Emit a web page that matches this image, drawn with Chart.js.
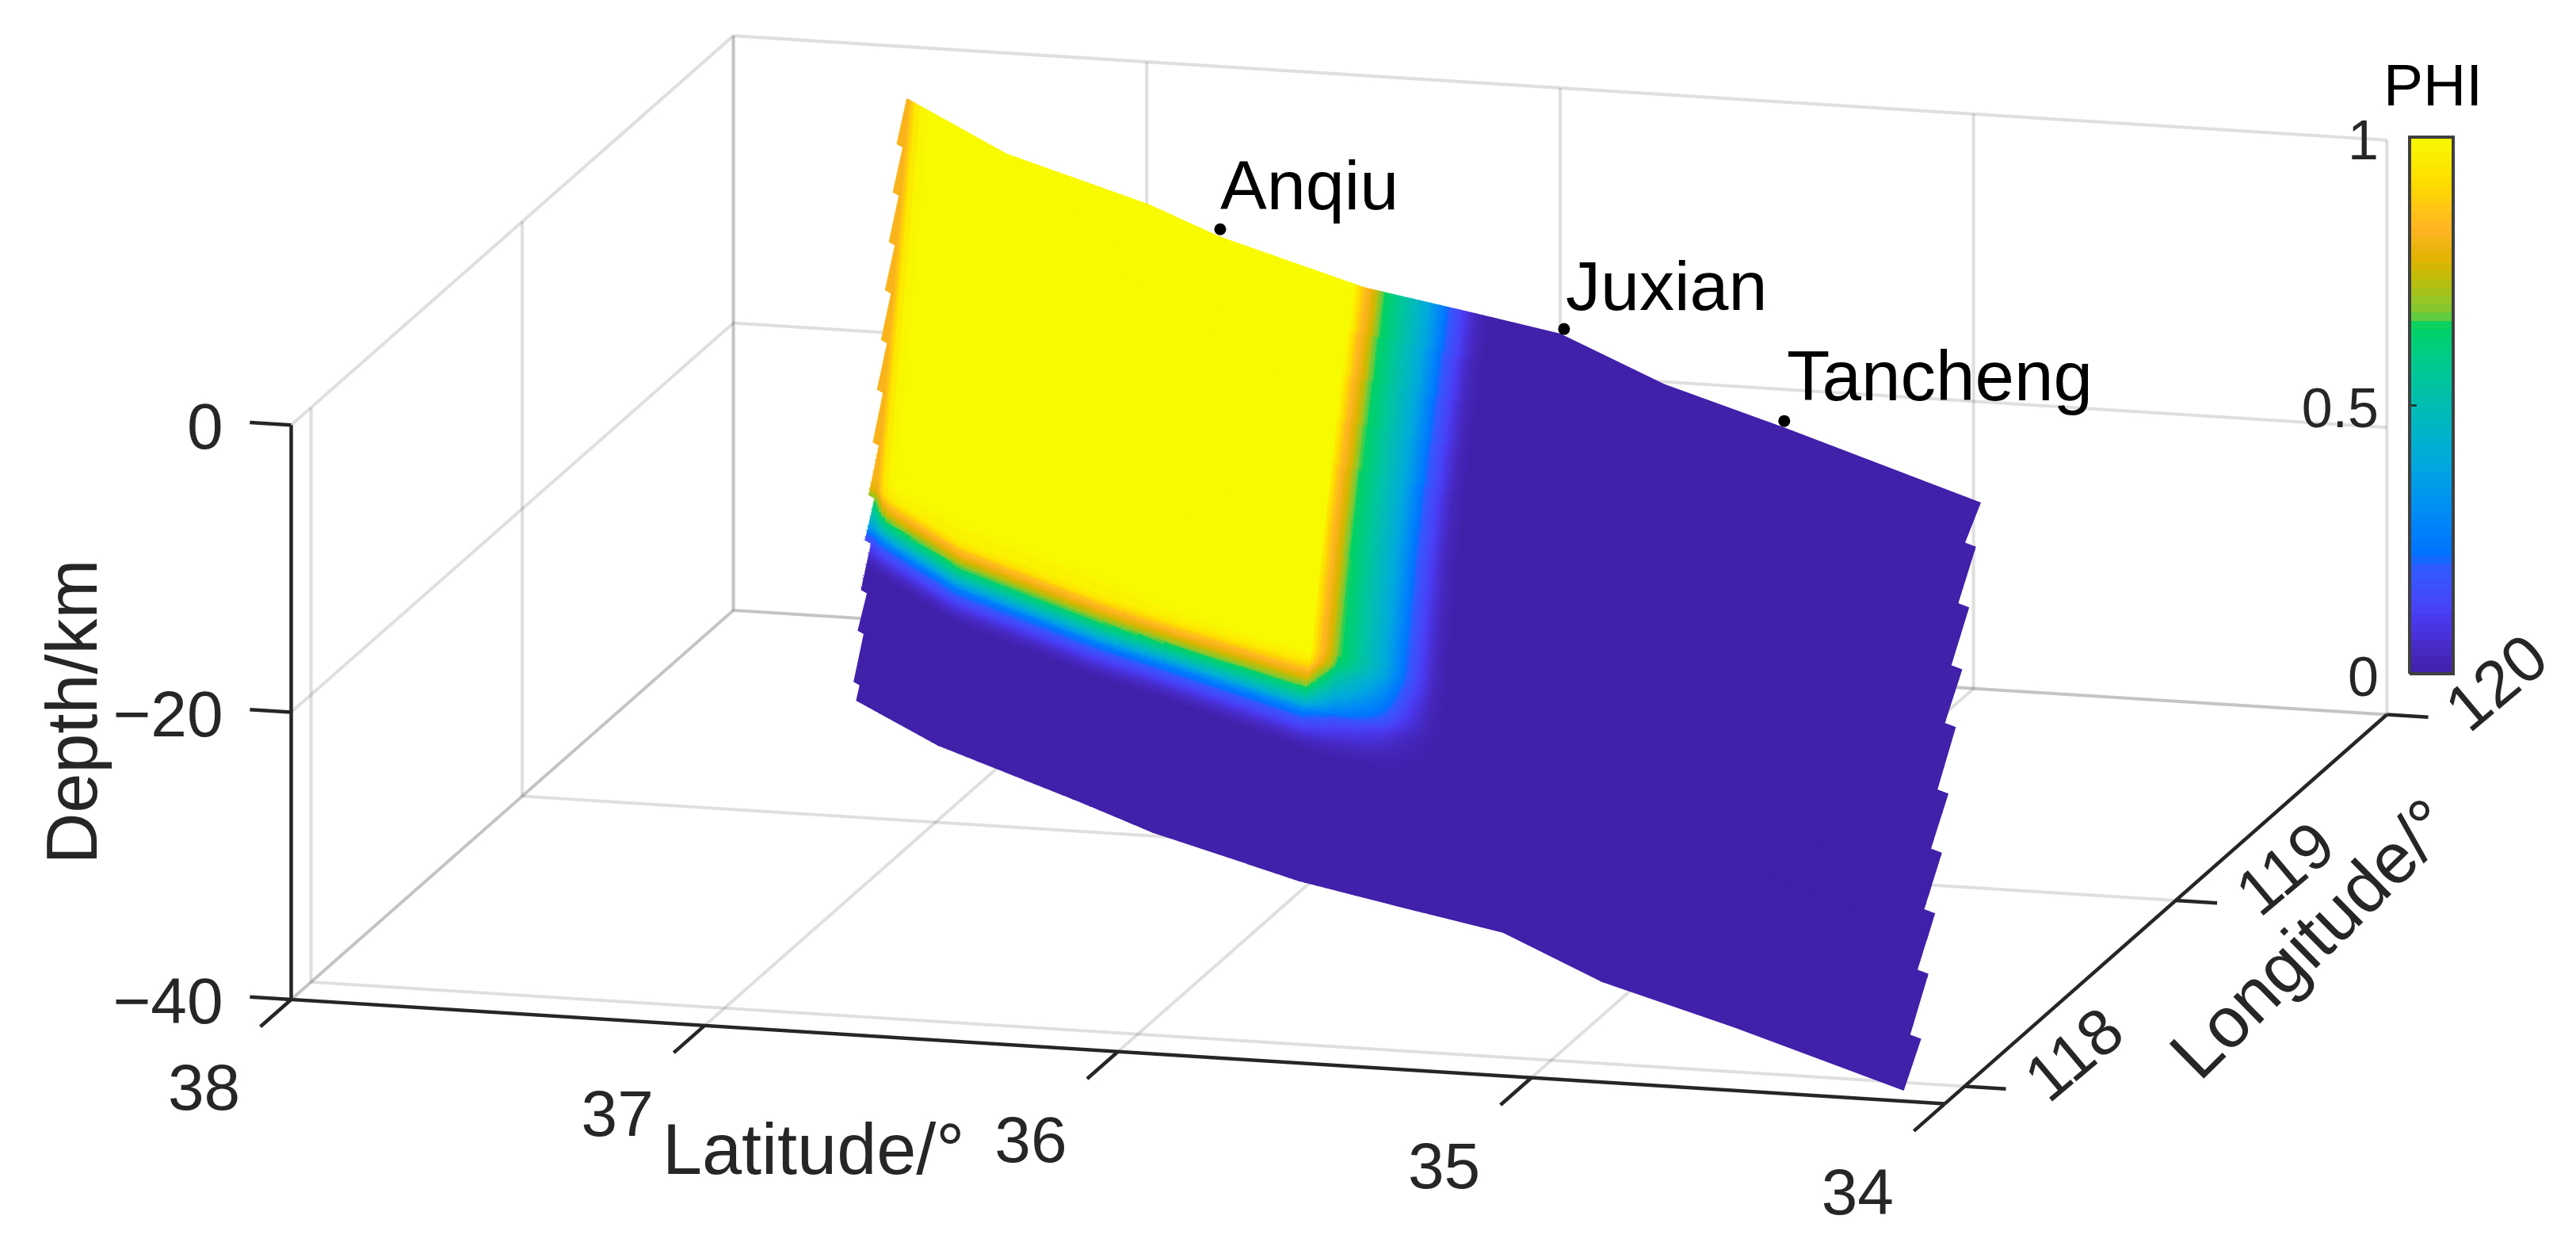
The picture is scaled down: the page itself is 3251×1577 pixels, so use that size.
<!DOCTYPE html>
<html>
<head>
<meta charset="utf-8">
<title>PHI on fault plane</title>
<script src="https://cdn.jsdelivr.net/npm/chart.js@4/dist/chart.umd.min.js"></script>
<style>
    html, body { margin: 0; padding: 0; background: #fff; }
    canvas { display: block; }
</style>
</head>
<body>
<canvas id="fault_chart" width="3251" height="1577"></canvas>
<script>
// axis ticks
var latTicks = [38, 37, 36, 35, 34];
var lonTicks = [118, 119, 120];
var depthTicks = [0, -20, -40];
var phiTicks = [0, 0.5, 1];

// fault trace at the surface and at 40 km
var topLat = [37.446, 37.081, 36.631, 36.385, 35.928, 35.657, 35.371, 35.005, 34.621, 34.023];
var topLon = [119.738, 119.493, 119.284, 119.143, 118.934, 118.853, 118.765, 118.544, 118.363, 118.067];
var baseLat = [37.483, 37.192, 36.722, 36.484, 36.029, 35.740, 35.437, 35.089, 34.669, 34.129];
var baseLon = [119.582, 119.388, 119.147, 119.019, 118.822, 118.726, 118.628, 118.413, 118.224, 117.963];

// PHI read along strike (by surface latitude) and down dip (by depth in km)
var stationLat = [37.446, 37.440, 37.430, 37.420, 37.400, 37.370, 37.081, 36.631, 36.385, 35.961, 35.945, 35.928, 35.911, 35.893, 35.879, 35.866, 35.843, 35.809, 35.775, 35.741, 35.707, 35.689, 35.673, 35.657, 35.650, 35.628, 35.605, 35.571, 35.371, 35.005, 34.621, 34.023];
var phiAlong = [0.80, 0.83, 0.88, 0.93, 0.98, 1, 1, 1, 1, 1, 0.93, 0.85, 0.80, 0.74, 0.67, 0.645, 0.60, 0.53, 0.46, 0.38, 0.27, 0.21, 0.17, 0.13, 0.12, 0.07, 0.03, 0, 0, 0, 0, 0];
var depthKm = [0, 25, 25.8, 26.1, 26.4, 26.7, 27, 27.3, 27.6, 28, 28.5, 29, 29.3, 29.6, 30, 30.4, 30.8, 31.2, 40];
var phiDepth = [1, 1, 0.97, 0.93, 0.86, 0.81, 0.76, 0.70, 0.64, 0.56, 0.43, 0.26, 0.21, 0.16, 0.11, 0.06, 0.03, 0, 0];

// the lower PHI edge is not quite level along strike, and widens toward the corner
var warpLat = [37.446, 37.081, 36.631, 36.385, 36.0, 35.9, 34.023];
var warpKm = [0, 0.4, 0.4, -0.1, -0.5, -0.9, -0.9];
var widenBy = [1, 1, 1, 1, 1.1, 1.2, 1.2];
// the side PHI edge bends a little with depth (degrees of latitude)
var bendDepth = [0, 5, 15, 25, 40];
var bendLat = [0, 0.009, 0.020, 0.014, 0.014];

// depths where the jagged edges of the mesh step back
var leftSteps = [0, 3.2, 6.4, 9.7, 12.9, 16.2, 19.5, 23, 26.5, 29.5, 32.8, 35.5, 38.9, 42];
var rightSteps = [0, 3, 7.1, 11.3, 15.2, 19.7, 23.7, 27.8, 31.9, 36.3, 40];

// towns on the trace
var townNames = ["Anqiu", "Juxian", "Tancheng"];
var townLat = [36.405, 35.373, 34.640];
var townLon = [119.183, 118.791, 118.399];

// colormap stops
var cmapPhi = [0, 0.036, 0.094, 0.129, 0.194, 0.223, 0.302, 0.396, 0.475, 0.561, 0.647, 0.658, 0.676, 0.734, 0.77, 0.827, 0.913, 1];
var cmapRgb = [[65, 32, 170], [70, 40, 190], [75, 55, 235], [70, 70, 250], [50, 90, 255], [0, 115, 255], [0, 140, 245], [0, 170, 220], [0, 185, 190], [0, 200, 150], [0, 210, 100], [80, 205, 70], [130, 200, 50], [190, 190, 10], [225, 180, 0], [255, 180, 35], [255, 220, 0], [248, 250, 0]];

var LON_MIN = 117.906;
var gridColor = 'rgba(38, 38, 38, 0.15)';
var axisColor = '#262626';

// fixed 3d view of the box, gives position in picture coordinates
function project(lat, lon, z) {
    var a = 38 - lat, b = lon - LON_MIN;
    return {
        x: 367.5 + a * 521.7 + b * 266.5,
        y: 1261 + a * 32.9 - b * 234.5 - (z + 40) * 18.12
    };
}

function lookup(xs, ys, v) {
    var asc = xs[1] > xs[0];
    for (var i = 0; i < xs.length - 1; i++) {
        var inside = asc ? (v >= xs[i] && v <= xs[i + 1]) : (v <= xs[i] && v >= xs[i + 1]);
        if (inside) {
            var u = (v - xs[i]) / (xs[i + 1] - xs[i]);
            return ys[i] + (ys[i + 1] - ys[i]) * u;
        }
    }
    return ys[ys.length - 1];
}

function phiColor(phi) {
    var rgb = [0, 1, 2].map(function (c) {
        return Math.round(lookup(cmapPhi, cmapRgb.map(function (s) { return s[c]; }), phi));
    });
    return 'rgb(' + rgb.join(',') + ')';
}

function phiAt(station, depth) {
    var s = station < 36.5 ? station - lookup(bendDepth, bendLat, depth) : station;
    var pivot = 25.5 + lookup(warpLat, warpKm, station);
    var d = depth < pivot ? depth : 25.5 + (depth - pivot) / lookup(warpLat, widenBy, station);
    return lookup(stationLat, phiAlong, s) * lookup(depthKm, phiDepth, d);
}

function surfacePoint(station, depth, shift) {
    var lat0 = lookup(topLat, topLat, station);
    var lon0 = lookup(topLat, topLon, station);
    var lat1 = lookup(topLat, baseLat, station);
    var lon1 = lookup(topLat, baseLon, station);
    var t = depth / 40;
    return project(lat0 + (lat1 - lat0) * t + shift[0], lon0 + (lon1 - lon0) * t + shift[1], -depth);
}

// how far the outer edge sticks out at a depth of a given step
function stepFraction(steps, mid, depth) {
    for (var k = 0; k < steps.length - 1; k++) {
        if (mid >= steps[k] && mid <= steps[k + 1]) {
            return (depth - steps[k]) / (steps[k + 1] - steps[k]);
        }
    }
    return 0;
}

function leftShift(mid, depth) {
    var f = stepFraction(leftSteps, mid, depth);
    return [0.022 * f, 0.0148 * f];
}

function rightShift(mid, depth) {
    var g = 1 - stepFraction(rightSteps, mid, depth);
    return [-0.035 * g, -0.0166 * g];
}

function lineSet(points, color, width, order, yAxis) {
    return {
        data: points,
        yAxisID: yAxis || 'y',
        showLine: true,
        fill: false,
        tension: 0,
        pointRadius: 0,
        borderColor: color,
        borderWidth: width,
        borderCapStyle: 'butt',
        order: order
    };
}

function polygonSet(points, color, order, yAxis) {
    var closed = points.concat([points[0]]);
    var set = lineSet(closed, color, 1.5, order, yAxis);
    set.fill = 'shape';
    set.backgroundColor = color;
    return set;
}

function sortedUnique(list, descending) {
    return list.filter(function (v, i, all) {
        return all.indexOf(v) === i;
    }).sort(function (p, q) { return descending ? q - p : p - q; });
}

// drawing mesh: the read stations plus finer cells where colours change
function meshColumns() {
    var cols = stationLat.slice();
    for (var s = 37.35; s > 35.97; s -= 0.03) { cols.push(+s.toFixed(3)); }
    for (var t = 35.97; t > 35.55; t -= 0.008) { cols.push(+t.toFixed(3)); }
    return sortedUnique(cols, true);
}

function meshRows() {
    var rows = depthKm.slice();
    for (var d = 3; d < 23; d += 3) { rows.push(d); }
    for (var e = 23; e < 33; e += 0.2) { rows.push(+e.toFixed(1)); }
    return sortedUnique(rows, false);
}

function surfaceSets() {
    var sets = [], cols = meshColumns(), rows = meshRows();
    var noShift = [0, 0];
    var edgeRows = sortedUnique(rows.concat(leftSteps, rightSteps).filter(function (d) { return d <= 40; }), false);

    cols.slice(0, -1).forEach(function (s0, c) {
        var s1 = cols[c + 1], midS = (s0 + s1) / 2;
        var first = c === 0, last = c === cols.length - 2;

        if (first || last) {
            edgeRows.slice(0, -1).forEach(function (d0, r) {
                var d1 = edgeRows[r + 1], mid = (d0 + d1) / 2;
                sets.push(polygonSet([
                    surfacePoint(s0, d0, first ? leftShift(mid, d0) : noShift),
                    surfacePoint(s1, d0, last ? rightShift(mid, d0) : noShift),
                    surfacePoint(s1, d1, last ? rightShift(mid, d1) : noShift),
                    surfacePoint(s0, d1, first ? leftShift(mid, d1) : noShift)
                ], phiColor(phiAt(midS, mid)), 20));
            });
            return;
        }

        // rows of one colour become one polygon
        var start = rows[0], color = null;
        rows.slice(0, -1).forEach(function (d0, r) {
            var c2 = phiColor(phiAt(midS, (d0 + rows[r + 1]) / 2));
            if (color !== null && c2 !== color) {
                sets.push(polygonSet([surfacePoint(s0, start, noShift), surfacePoint(s1, start, noShift),
                    surfacePoint(s1, d0, noShift), surfacePoint(s0, d0, noShift)], color, 20));
                start = d0;
            }
            color = c2;
        });
        sets.push(polygonSet([surfacePoint(s0, start, noShift), surfacePoint(s1, start, noShift),
            surfacePoint(s1, 40, noShift), surfacePoint(s0, 40, noShift)], color, 20));
    });
    return sets;
}

function buildDatasets() {
    var sets = [];
    var lonEnd = lonTicks[lonTicks.length - 1];

    // walls and floor grid
    depthTicks.forEach(function (z) {
        sets.push(lineSet([project(38, LON_MIN, z), project(38, lonEnd, z), project(34, lonEnd, z)], gridColor, 4, 40));
    });
    lonTicks.forEach(function (lon) {
        sets.push(lineSet([project(38, lon, 0), project(38, lon, -40), project(34, lon, -40)], gridColor, 4, 40));
    });
    latTicks.forEach(function (lat) {
        sets.push(lineSet([project(lat, LON_MIN, -40), project(lat, lonEnd, -40), project(lat, lonEnd, 0)], gridColor, 4, 40));
    });

    sets = sets.concat(surfaceSets());

    // black axes and ticks
    sets.push(lineSet([project(38, LON_MIN, 0), project(38, LON_MIN, -40), project(34, LON_MIN, -40)], axisColor, 4.5, 5));
    sets.push(lineSet([project(34, LON_MIN, -40), project(34, lonEnd, -40)], axisColor, 4.5, 5));
    depthTicks.forEach(function (z) {
        sets.push(lineSet([project(38, LON_MIN, z), project(38.1, LON_MIN, z)], axisColor, 4.5, 5));
    });
    latTicks.forEach(function (lat) {
        sets.push(lineSet([project(lat, LON_MIN, -40), project(lat, LON_MIN - 0.146, -40)], axisColor, 4.5, 5));
    });
    lonTicks.forEach(function (lon) {
        sets.push(lineSet([project(34, lon, -40), project(33.9, lon, -40)], axisColor, 4.5, 5));
    });

    // town markers
    sets.push({
        data: townNames.map(function (n, i) { return project(townLat[i], townLon[i], 0); }),
        pointRadius: 7.5,
        pointBackgroundColor: '#000',
        pointBorderWidth: 0,
        showLine: false,
        order: 1
    });

    // colorbar, in its own PHI scale
    var barLeft = 3041, barRight = 3096;
    for (var k = 0; k < 64; k++) {
        sets.push(polygonSet([
            { x: barLeft, y: k / 64 }, { x: barRight, y: k / 64 },
            { x: barRight, y: (k + 1) / 64 }, { x: barLeft, y: (k + 1) / 64 }
        ], phiColor((k + 0.5) / 64), 4, 'yBar'));
    }
    var frame = [{ x: barLeft, y: 0 }, { x: barRight, y: 0 }, { x: barRight, y: 1 }, { x: barLeft, y: 1 }, { x: barLeft, y: 0 }];
    sets.push(lineSet(frame, '#404040', 4, 3, 'yBar'));
    sets.push(lineSet([{ x: barLeft, y: 0.5 }, { x: barLeft + 9, y: 0.5 }], '#262626', 2.5, 3, 'yBar'));
    return sets;
}

function drawText(ctx, str, x, y, size, color, align, rotate) {
    ctx.save();
    ctx.translate(x, y);
    if (rotate) {
        ctx.rotate(rotate * Math.PI / 180);
    }
    ctx.font = size + 'px "Liberation Sans", Arial, sans-serif';
    ctx.fillStyle = color;
    ctx.textAlign = align;
    ctx.textBaseline = 'alphabetic';
    ctx.fillText(str, 0, 0);
    ctx.restore();
}

var labelsPlugin = {
    id: 'labels',
    afterDatasetsDraw: function (chart) {
        var ctx = chart.ctx;
        var yBar = chart.scales.yBar;
        var tickColor = '#262626';

        depthTicks.forEach(function (z) {
            var p = project(38, LON_MIN, z);
            var txt = z < 0 ? '\u2212' + (-z) : String(z);
            drawText(ctx, txt, p.x - 86, p.y + 30, 82, tickColor, 'right');
        });
        latTicks.forEach(function (lat) {
            var p = project(lat, LON_MIN, -40);
            drawText(ctx, String(lat), p.x - 110, p.y + 139, 82, tickColor, 'center');
        });
        lonTicks.forEach(function (lon) {
            var p = project(34, lon, -40);
            drawText(ctx, String(lon), p.x + 137 + 19, p.y - 41 + 22, 82, tickColor, 'center', -40);
        });
        phiTicks.forEach(function (v) {
            drawText(ctx, String(v), 3002, yBar.getPixelForValue(v) + 28, 70, tickColor, 'right');
        });

        drawText(ctx, 'Depth/km', 122, 898, 90, tickColor, 'center', -90);
        drawText(ctx, 'Latitude/\u00b0', 836, 1481, 90, tickColor, 'left');
        drawText(ctx, 'Longitude/\u00b0', 2776, 1366, 90, tickColor, 'left', -44.5);
        drawText(ctx, 'PHI', 3008, 133, 75, '#000', 'left');

        drawText(ctx, townNames[0], 1540, 264, 88, '#000', 'left');
        drawText(ctx, townNames[1], 1976, 391, 88, '#000', 'left');
        drawText(ctx, townNames[2], 2255, 505, 89, '#000', 'left');
    }
};

new Chart(document.getElementById("fault_chart").getContext("2d"), {
    type: 'scatter',
    data: { datasets: buildDatasets() },
    options: {
        responsive: false,
        devicePixelRatio: 1,
        animation: false,
        events: [],
        layout: { padding: 0, autoPadding: false },
        plugins: {
            legend: { display: false },
            tooltip: { enabled: false },
            title: { display: false }
        },
        scales: {
            x: { type: 'linear', display: false, min: 0, max: 3251 },
            y: { type: 'linear', display: false, min: 0, max: 1577, reverse: true },
            yBar: { type: 'linear', display: false, min: -1.0739, max: 1.2555 }
        }
    },
    plugins: [labelsPlugin]
});
</script>
</body>
</html>
